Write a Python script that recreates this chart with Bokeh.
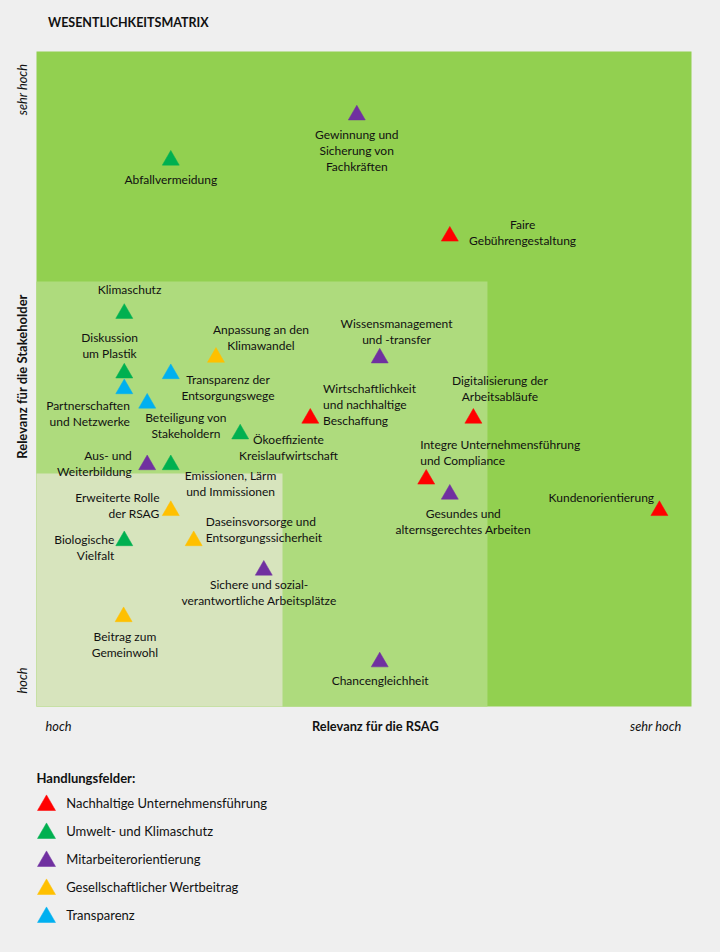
import math
from bokeh.plotting import figure
from bokeh.models import Range1d, ColumnDataSource
from bokeh.embed import file_html
from bokeh.resources import INLINE
from bokeh.core.properties import value

# ---------------- data ----------------
fields = ["Nachhaltige Unternehmensführung", "Umwelt- und Klimaschutz",
          "Mitarbeiterorientierung", "Gesellschaftlicher Wertbeitrag", "Transparenz"]
field_colors = ["#FF0000", "#00B050", "#7030A0", "#FFC000", "#00B0F0"]

topics = [
    "Gewinnung und\nSicherung von\nFachkräften",
    "Abfallvermeidung",
    "Faire\nGebührengestaltung",
    "Klimaschutz",
    "Diskussion\num Plastik",
    "Partnerschaften\nund Netzwerke",
    "Transparenz der\nEntsorgungswege",
    "Anpassung an den\nKlimawandel",
    "Beteiligung von\nStakeholdern",
    "Ökoeffiziente\nKreislaufwirtschaft",
    "Aus- und\nWeiterbildung",
    "Emissionen, Lärm\nund Immissionen",
    "Wissensmanagement\nund -transfer",
    "Wirtschaftlichkeit\nund nachhaltige\nBeschaffung",
    "Digitalisierung der\nArbeitsabläufe",
    "Integre Unternehmensführung\nund Compliance",
    "Gesundes und\nalternsgerechtes Arbeiten",
    "Kundenorientierung",
    "Erweiterte Rolle\nder RSAG",
    "Daseinsvorsorge und\nEntsorgungssicherheit",
    "Biologische\nVielfalt",
    "Sichere und sozial-\nverantwortliche Arbeitsplätze",
    "Beitrag zum\nGemeinwohl",
    "Chancengleichheit",
]
topic_field = [2, 1, 0, 1, 1, 4, 4, 3, 4, 1, 2, 1, 2, 0, 0, 0, 2, 0, 3, 3, 1, 2, 3, 2]
relevance_rsag = [4.89, 2.05, 6.31, 1.34, 1.34, 1.34, 2.05, 2.74, 1.69, 3.11, 1.69, 2.05,
                  5.24, 4.18, 6.67, 5.95, 6.31, 9.51, 2.05, 2.40, 1.34, 3.47, 1.33, 5.24]
relevance_stakeholder = [9.03, 8.34, 7.18, 6.00, 5.09, 4.85, 5.08, 5.33, 4.63, 4.16, 3.69, 3.69,
                         5.32, 4.40, 4.40, 3.47, 3.24, 2.99, 2.99, 2.53, 2.53, 2.08, 1.37, 0.68]

# matrix zones (upper bounds on both axes, scale 0..10)
zone_x = [10.0, 6.885, 3.756]
zone_y = [10.0, 6.489, 3.557]
zone_colors = ["#92D050", "#AEDB7D", "#D7E4BD"]

# ---------------- layout (pixels) ----------------
W, H = 712, 944
PX = 65.5          # pixels per unit
X0, Y0 = 36, 706   # canvas position of the matrix origin
FONT = "Lato"
TXT = "#111111"
BG = "#EFEFEF"
LH = 16            # label line height

# label placement relative to marker: (dx, dy of first line, align)
label_layout = [
    (0, 19.2, "center"), (0, 19.3, "center"), (72.8, -11.7, "center"), (5.3, -23.7, "center"),
    (-14.7, -35.7, "center"), (5.6, 17, "right"), (57.2, 5.7, "center"), (45, -28, "center"),
    (38.8, 14, "center"), (48.3, 5.3, "center"), (-15.4, -9.7, "right"), (59.8, 11, "center"),
    (16.8, -34.4, "center"), (12.7, -29.7, "left"), (26.5, -37.7, "center"), (-6, -34.4, "left"),
    (13.5, 19, "center"), (-5.3, -13.3, "right"), (-11.3, -13.3, "right"), (12, -19.3, "left"),
    (-10, -1, "right"), (-4.7, 14.3, "center"), (1.3, 19.7, "center"), (0.4, 19, "center"),
]


def dxp(page_x):
    return (page_x - X0) / PX


def dyp(page_y):
    return (Y0 - page_y) / PX


p = figure(width=W, height=H, output_backend="svg", toolbar_location=None,
           x_range=Range1d(-X0 / PX, (W - X0) / PX),
           y_range=Range1d(-(H - Y0) / PX, Y0 / PX),
           min_border=0, min_border_left=0, min_border_right=0,
           min_border_top=0, min_border_bottom=0)
p.axis.visible = False
p.grid.visible = False
p.outline_line_color = None
p.background_fill_color = BG
p.border_fill_color = BG

# zones
for zx, zy, zc in zip(zone_x, zone_y, zone_colors):
    p.quad(left=0, right=zx, bottom=0, top=zy, fill_color=zc, line_color=None)

# markers
src = ColumnDataSource(dict(x=relevance_rsag, y=relevance_stakeholder,
                            c=[field_colors[f] for f in topic_field]))
p.scatter("x", "y", source=src, marker="triangle", size=17,
          fill_color="c", line_color="c", line_width=0.5)

# labels
groups = {"left": dict(x=[], y=[], t=[], xo=[], yo=[]),
          "center": dict(x=[], y=[], t=[], xo=[], yo=[]),
          "right": dict(x=[], y=[], t=[], xo=[], yo=[])}
for i, name in enumerate(topics):
    dx, dy, al = label_layout[i]
    for k, line in enumerate(name.split("\n")):
        g = groups[al]
        g["x"].append(relevance_rsag[i])
        g["y"].append(relevance_stakeholder[i])
        g["t"].append(line)
        g["xo"].append(dx)
        g["yo"].append(dy + k * LH)
for al, g in groups.items():
    s = ColumnDataSource(g)
    p.text("x", "y", text="t", x_offset="xo", y_offset="yo", source=s,
           text_align=al, text_baseline="middle", text_font=value(FONT),
           text_font_size="12px", text_color=TXT)

# title
p.text(x=[dxp(47.5)], y=[dyp(22)], text=["WESENTLICHKEITSMATRIX"], text_align="left",
       text_baseline="middle", text_font=value(FONT), text_font_size="12.5px",
       text_font_style="bold", text_color=TXT)

# axis captions
p.text(x=[dxp(45)], y=[dyp(725)], text=["hoch"], text_align="left", text_baseline="middle",
       text_font=value(FONT), text_font_size="12.8px", text_font_style="italic", text_color=TXT)
p.text(x=[dxp(681)], y=[dyp(725)], text=["sehr hoch"], text_align="right", text_baseline="middle",
       text_font=value(FONT), text_font_size="12.8px", text_font_style="italic", text_color=TXT)
p.text(x=[dxp(375)], y=[dyp(725)], text=["Relevanz für die RSAG"], text_align="center",
       text_baseline="middle", text_font=value(FONT), text_font_size="12.8px",
       text_font_style="bold", text_color=TXT)
p.text(x=[dxp(21)], y=[dyp(376)], text=["Relevanz für die Stakeholder"], angle=math.pi / 2,
       text_align="center", text_baseline="middle", text_font=value(FONT),
       text_font_size="13px", text_font_style="bold", text_color=TXT)
p.text(x=[dxp(21)], y=[dyp(89)], text=["sehr hoch"], angle=math.pi / 2,
       text_align="center", text_baseline="middle", text_font=value(FONT),
       text_font_size="12.8px", text_font_style="italic", text_color=TXT)
p.text(x=[dxp(21)], y=[dyp(680)], text=["hoch"], angle=math.pi / 2,
       text_align="center", text_baseline="middle", text_font=value(FONT),
       text_font_size="12.8px", text_font_style="italic", text_color=TXT)

# legend
p.text(x=[dxp(36)], y=[dyp(777)], text=["Handlungsfelder:"], text_align="left",
       text_baseline="middle", text_font=value(FONT), text_font_size="13px",
       text_font_style="bold", text_color=TXT)
leg = ColumnDataSource(dict(
    x=[dxp(46)] * len(fields),
    y=[dyp(804.8 + 28 * i) for i in range(len(fields))],
    ty=[dyp(802.3 + 28 * i) for i in range(len(fields))],
    tx=[dxp(65.7)] * len(fields),
    c=field_colors, t=fields))
p.scatter("x", "y", source=leg, marker="triangle", size=18, fill_color="c", line_color="c",
          line_width=0.5)
p.text("tx", "ty", text="t", source=leg, text_align="left", text_baseline="middle",
       text_font=value(FONT), text_font_size="13px", text_color=TXT)

html = file_html(p, INLINE)
html = html.replace("<head>", "<head><style>html, body { background: %s; margin: 0; padding: 0; overflow: hidden; }</style>" % BG, 1)
open("out.html", "w").write(html)
